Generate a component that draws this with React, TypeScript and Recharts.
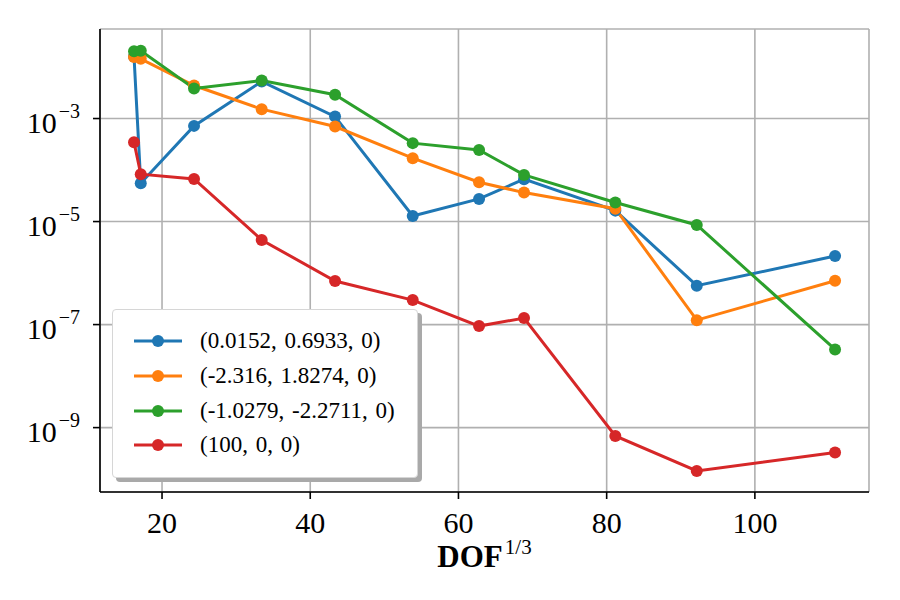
import React from "react";
import { CartesianGrid, Line, LineChart, XAxis, YAxis } from "recharts";

// cube root of degrees of freedom for each refinement level
const dof = [16.22, 17.13, 24.32, 33.45, 43.35, 53.83, 62.78, 68.85, 81.17, 92.16, 110.82];

// error at each evaluation point
const errP1 = [1.6e-2, 5.55e-5, 7.2e-4, 5.24e-3, 1.09e-3, 1.28e-5, 2.75e-5, 6.64e-5, 1.63e-5, 5.68e-7, 2.14e-6];
const errP2 = [1.56e-2, 1.44e-2, 4.37e-3, 1.52e-3, 7.0e-4, 1.7e-4, 5.8e-5, 3.65e-5, 1.78e-5, 1.22e-7, 7.1e-7];
const errP3 = [2.02e-2, 2.07e-2, 3.83e-3, 5.48e-3, 2.89e-3, 3.33e-4, 2.46e-4, 8.05e-5, 2.35e-5, 8.6e-6, 3.3e-8];
const errP4 = [3.48e-4, 8.3e-5, 6.73e-5, 4.39e-6, 7.0e-7, 2.99e-7, 9.35e-8, 1.34e-7, 6.9e-10, 1.44e-10, 3.28e-10];

const seriesLabels = ["(0.0152, 0.6933, 0)", "(-2.316, 1.8274, 0)", "(-1.0279, -2.2711, 0)", "(100, 0, 0)"];
const xTicks = [20, 40, 60, 80, 100];
const yExponents = [-3, -5, -7, -9];

const COLORS = ["#1f77b4", "#ff7f0e", "#2ca02c", "#d62728"];
const KEYS = ["p1", "p2", "p3", "p4"];
const FONT = "'Liberation Serif', 'Times New Roman', serif";

const X_DOMAIN: [number, number] = [11.63, 115.4];
const Y_DOMAIN: [number, number] = [10 ** -10.25, 10 ** -1.262];

const data = dof.map((x, i) => ({
  x,
  p1: errP1[i],
  p2: errP2[i],
  p3: errP3[i],
  p4: errP4[i],
}));

function XTick({ x, y, payload }: any) {
  return (
    <text x={x} y={y + 33.5} textAnchor="middle" fontSize={30} fontFamily={FONT} fill="#000">
      {payload.value}
    </text>
  );
}

function YTick({ x, y, payload }: any) {
  const exp = Math.round(Math.log10(payload.value));
  return (
    <text x={x - 13} y={y + 14.6} textAnchor="end" fontFamily={FONT} fill="#000">
      <tspan fontSize={30}>10</tspan>
      <tspan fontSize={20} dx={2} dy={-15}>
        {"\u2212" + Math.abs(exp)}
      </tspan>
    </text>
  );
}

function XLabel({ viewBox }: any) {
  const cx = viewBox.x + viewBox.width / 2;
  return (
    <text x={cx} y={567} textAnchor="middle" fontFamily={FONT} fill="#000">
      <tspan fontSize={31} fontWeight="bold">DOF</tspan>
      <tspan fontSize={21} dx={2} dy={-13}>1/3</tspan>
    </text>
  );
}

function LegendBox() {
  return (
    <div
      style={{
        position: "absolute",
        left: 112,
        top: 309,
        width: 306,
        height: 169,
        background: "#fff",
        border: "1px solid #d6d6d6",
        borderRadius: 4,
        boxShadow: "4px 4px 0 #a9a9a9",
        paddingTop: 14,
        boxSizing: "border-box",
        fontFamily: FONT,
      }}
    >
      {seriesLabels.map((label, i) => (
        <div key={label} style={{ display: "flex", alignItems: "center", height: 34.7 }}>
          <svg width={87} height={20} style={{ flex: "none" }}>
            <line x1={21} x2={69} y1={10} y2={10} stroke={COLORS[i]} strokeWidth={3} />
            <circle cx={45} cy={10} r={6} fill={COLORS[i]} />
          </svg>
          <span style={{ fontSize: 23, wordSpacing: 2, whiteSpace: "nowrap", color: "#000" }}>{label}</span>
        </div>
      ))}
    </div>
  );
}

export default function App() {
  return (
    <div style={{ position: "relative", width: 900, height: 600, background: "#fff" }}>
      <style>{"body{margin:0}"}</style>
      <LineChart width={900} height={600} data={data} margin={{ top: 29, right: 31, bottom: 0, left: 0 }}>
        <CartesianGrid stroke="#b0b0b0" strokeWidth={1.6} />
        <XAxis
          dataKey="x"
          type="number"
          domain={X_DOMAIN}
          allowDataOverflow
          ticks={xTicks}
          height={108}
          tickSize={7}
          tickMargin={0}
          tick={<XTick />}
          tickLine={{ stroke: "#000", strokeWidth: 1.6 }}
          axisLine={{ stroke: "#000", strokeWidth: 1.6 }}
          label={<XLabel />}
        />
        <XAxis
          xAxisId="top"
          orientation="top"
          type="number"
          domain={X_DOMAIN}
          height={0}
          tick={false}
          tickLine={false}
          axisLine={{ stroke: "#000", strokeWidth: 1.6 }}
        />
        <YAxis
          scale="log"
          type="number"
          domain={Y_DOMAIN}
          allowDataOverflow
          ticks={yExponents.map((e) => 10 ** e)}
          width={100}
          tickSize={7}
          tickMargin={0}
          tick={<YTick />}
          tickLine={{ stroke: "#000", strokeWidth: 1.6 }}
          axisLine={{ stroke: "#000", strokeWidth: 1.6 }}
        />
        <YAxis
          yAxisId="right"
          orientation="right"
          type="number"
          domain={[0, 1]}
          width={0}
          tick={false}
          tickLine={false}
          axisLine={{ stroke: "#000", strokeWidth: 1.6 }}
        />
        {KEYS.map((k, i) => (
          <Line
            key={k}
            dataKey={k}
            name={seriesLabels[i]}
            type="linear"
            stroke={COLORS[i]}
            strokeWidth={3}
            dot={{ r: 6, fill: COLORS[i], stroke: "none" }}
            activeDot={false}
            isAnimationActive={false}
          />
        ))}
      </LineChart>
      <LegendBox />
    </div>
  );
}
